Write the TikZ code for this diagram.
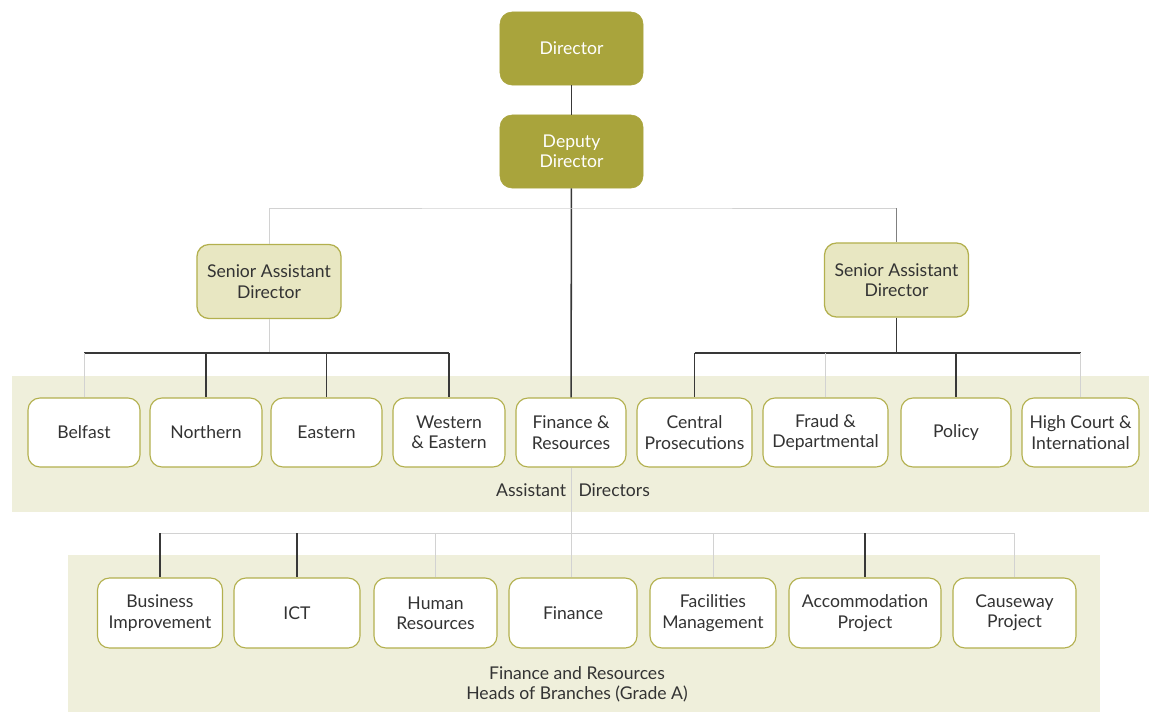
\documentclass[tikz,border=0pt]{standalone}
\usepackage{fontspec}
\setmainfont{Lato}
\definecolor{olivetop}{HTML}{A9A43C}
\definecolor{olivesad}{HTML}{E8E7C2}
\definecolor{oliveline}{HTML}{B3B04E}
\definecolor{bandfill}{HTML}{EFEFDB}
\definecolor{linkdark}{HTML}{383838}
\definecolor{linklight}{HTML}{D2D2D2}
\definecolor{textgrey}{HTML}{333333}
\begin{document}
\begin{tikzpicture}[x=0.025cm,y=-0.025cm,
 font=\fontsize{12.5}{14.5}\selectfont,
 head/.style={fill=olivetop,draw=olivetop,rounded corners=0.3cm,text=white,align=center,minimum width=3.575cm,minimum height=1.825cm},
 sad/.style={fill=olivesad,draw=oliveline,line width=0.9pt,rounded corners=0.3cm,text=textgrey,align=center,minimum width=3.6cm,minimum height=1.85cm},
 unit/.style={fill=white,draw=oliveline,line width=0.8pt,rounded corners=0.3cm,text=textgrey,align=center,inner sep=1pt,minimum height=1.725cm},
 band/.style={fill=bandfill,draw=none},
 dark/.style={draw=linkdark,line width=1.1pt},
 light/.style={draw=linklight,line width=0.6pt},
 mid/.style={draw=gray,line width=0.7pt},
 lab/.style={text=textgrey,align=center,inner sep=1pt}
]
 \useasboundingbox (0,0) rectangle (1149,712);
 \fill[white] (0,0) rectangle (1149,712);
 % shaded bands
 \path[band] (12,376) rectangle (1149,512);
 \path[band] (68,555) rectangle (1100,712);
 % top of the tree
 \node[head] (dir) at (571.5,48.5) {Director};
 \node[head] (dep) at (571.5,151.5) {Deputy\\Director};
 \node[sad] (sadl) at (269,281.5) {Senior Assistant\\Director};
 \node[sad] (sadr) at (896.5,280) {Senior Assistant\\Director};
 % assistant directors
 \node[unit,minimum width=2.8cm] (belfast) at (84,432.5) {Belfast};
 \node[unit,minimum width=2.8cm] (northern) at (206,432.5) {Northern};
 \node[unit,minimum width=2.775cm] (eastern) at (326.5,432.5) {Eastern};
 \node[unit,minimum width=2.8cm] (western) at (449,432.5) {Western\\\& Eastern};
 \node[unit,minimum width=2.75cm] (finres) at (571,432.5) {Finance \&\\Resources};
 \node[unit,minimum width=2.875cm] (central) at (694.5,432.5) {Central\\Prosecutions};
 \node[unit,minimum width=3.125cm] (fraud) at (825.5,432.5) {Fraud \&\\Departmental};
 \node[unit,minimum width=2.75cm] (policy) at (956,432.5) {Policy};
 \node[unit,minimum width=2.925cm] (highct) at (1080.5,432.5) {High Court \&\\International};
 \node[lab] (adlab) at (573,490) {Assistant\hspace{0.7em}Directors};
 % heads of branches
 \node[unit,minimum width=3.125cm,minimum height=1.75cm] (busimp) at (160,613) {Business\\Improvement};
 \node[unit,minimum width=3.15cm,minimum height=1.75cm] (ict) at (297,613) {ICT};
 \node[unit,minimum width=3.075cm,minimum height=1.75cm] (hr) at (435.5,613) {Human\\Resources};
 \node[unit,minimum width=3.2cm,minimum height=1.75cm] (fin) at (573,613) {Finance};
 \node[unit,minimum width=3.15cm,minimum height=1.75cm] (facil) at (713,613) {Facilities\\Management};
 \node[unit,minimum width=3.8cm,minimum height=1.75cm] (accom) at (865,613) {Accommodation\\Project};
 \node[unit,minimum width=3.075cm,minimum height=1.75cm] (cause) at (1014.5,613) {Causeway\\Project};
 \node[lab] (hblab) at (577,684) {Finance and Resources\\Heads of Branches (Grade A)};
 % bus points
 \coordinate (bustop) at (571,208);
 \coordinate (busl) at (269,353);
 \coordinate (busr) at (896.5,353);
 \coordinate (busb) at (571,533);
 % links
 \draw[dark] (dir) -- (dep);
 \draw[dark] (dep) -- (finres);
 \draw[light] (finres.south) -- (finres.south |- fin.north);
 \draw[light] (sadl.north) |- (bustop) -- (bustop -| sadr.north);
 \draw[mid] (bustop -| sadr.north) -- (sadr.north);
 \draw[light] (sadl) -- (busl);
 \draw[dark] (busl -| belfast.north) -- (busl -| western.north);
 \draw[light] (busl -| belfast.north) -- (belfast.north);
 \foreach \n in {northern,eastern,western}
  \draw[dark] (busl -| \n.north) -- (\n.north);
 \draw[dark] (sadr) -- (busr);
 \draw[dark] (busr -| central.north) -- (busr -| highct.north);
 \foreach \n in {central,policy}
  \draw[dark] (busr -| \n.north) -- (\n.north);
 \foreach \n in {fraud,highct}
  \draw[light] (busr -| \n.north) -- (\n.north);
 \draw[light] (busb -| busimp.north) -- (busb -| cause.north);
 \foreach \n in {busimp,ict,accom}
  \draw[dark] (busb -| \n.north) -- (\n.north);
 \foreach \n in {hr,facil,cause}
  \draw[light] (busb -| \n.north) -- (\n.north);
\end{tikzpicture}
\end{document}
